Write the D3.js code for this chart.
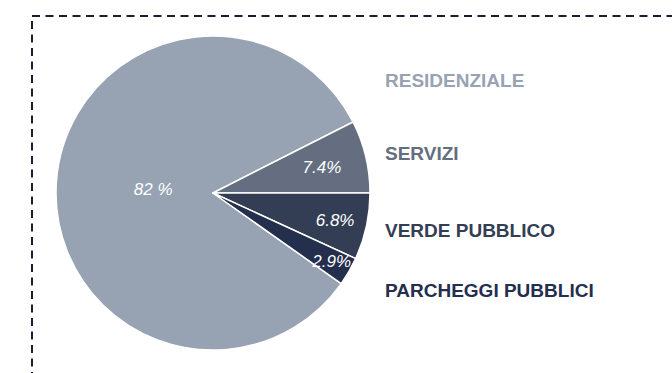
<!DOCTYPE html>
<html>
<head>
<meta charset="utf-8">
<script src="https://cdn.jsdelivr.net/npm/d3@7"></script>
<style>
  html, body { margin: 0; padding: 0; background: #fff; }
  svg { display: block; }
</style>
</head>
<body>
<svg id="chart" width="672" height="373"></svg>
<script>
// Land-use shares (percent)
const categories = ["RESIDENZIALE", "SERVIZI", "VERDE PUBBLICO", "PARCHEGGI PUBBLICI"];
const values = [82, 7.4, 6.8, 2.9];
const valueLabels = ["82 %", "7.4%", "6.8%", "2.9%"];
const colors = ["#97a3b3", "#646e80", "#333e55", "#242e4d"];

const width = 672, height = 373;
const cx = 213, cy = 193, radius = 157;

const svg = d3.select("#chart");

// dashed frame running off the right and bottom edges
svg.append("rect")
  .attr("x", 32).attr("y", 16)
  .attr("width", 700).attr("height", 400)
  .attr("fill", "none")
  .attr("stroke", "#1e1b3a")
  .attr("stroke-width", 2)
  .attr("stroke-dasharray", "8 5.5");

const total = d3.sum(values);
// rotate so that the boundary between SERVIZI and VERDE PUBBLICO sits at 3 o'clock
const start = Math.PI / 2 - (values[0] + values[1]) / total * 2 * Math.PI;

const pie = d3.pie().sort(null).value(d => d)
  .startAngle(start).endAngle(start + 2 * Math.PI);
const arcs = pie(values);
const arc = d3.arc().innerRadius(0).outerRadius(radius);

const g = svg.append("g").attr("transform", `translate(${cx},${cy})`);

g.selectAll("path.slice")
  .data(arcs)
  .join("path")
  .attr("class", "slice")
  .attr("d", arc)
  .attr("fill", (d, i) => colors[i])
  .attr("stroke", "#fff")
  .attr("stroke-width", 1.5)
  .attr("stroke-linejoin", "round");

// percentage labels placed along each slice's mid-angle
const labelRadius = [60, 112, 125, 137];
g.selectAll("text.pct")
  .data(arcs)
  .join("text")
  .attr("class", "pct")
  .attr("transform", (d, i) => {
    const a = (d.startAngle + d.endAngle) / 2;
    const r = labelRadius[i];
    return `translate(${r * Math.sin(a)},${-r * Math.cos(a)})`;
  })
  .attr("text-anchor", "middle")
  .attr("dy", "0.35em")
  .attr("fill", "#fff")
  .attr("font-family", "'Liberation Sans', Arial, sans-serif")
  .attr("font-style", "italic")
  .attr("font-size", 17)
  .text((d, i) => valueLabels[i]);

// legend
const legendY = [80, 153, 230, 290];
svg.selectAll("text.legend")
  .data(categories)
  .join("text")
  .attr("class", "legend")
  .attr("x", 385)
  .attr("y", (d, i) => legendY[i])
  .attr("dy", "0.35em")
  .attr("fill", (d, i) => colors[i])
  .attr("font-family", "'Liberation Sans', Arial, sans-serif")
  .attr("font-weight", 700)
  .attr("font-size", 19)
  .text(d => d);
</script>
</body>
</html>
